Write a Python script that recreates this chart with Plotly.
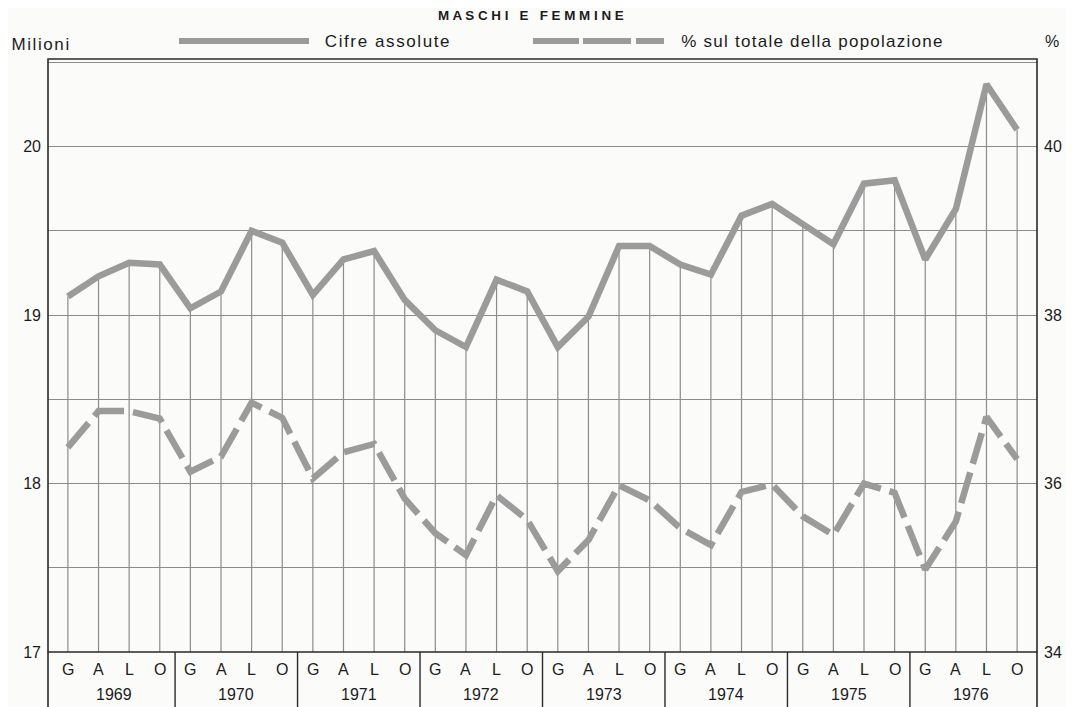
import plotly.graph_objects as go

years = ["1969", "1970", "1971", "1972", "1973", "1974", "1975", "1976"]
quarters = ["G", "A", "L", "O"]

# Cifre assolute (milioni)
assolute = [19.11, 19.23, 19.31, 19.30, 19.04, 19.14, 19.50, 19.43,
            19.12, 19.33, 19.38, 19.09, 18.91, 18.81, 19.21, 19.14,
            18.81, 18.99, 19.41, 19.41, 19.30, 19.24, 19.59, 19.66,
            19.54, 19.42, 19.78, 19.80, 19.33, 19.63, 20.37, 20.10]
# % sul totale della popolazione
percentuale = [36.43, 36.86, 36.86, 36.77, 36.14, 36.32, 36.96, 36.78,
               36.06, 36.37, 36.47, 35.82, 35.41, 35.15, 35.86, 35.57,
               34.96, 35.33, 35.98, 35.80, 35.47, 35.27, 35.90, 35.99,
               35.61, 35.39, 36.00, 35.89, 34.98, 35.55, 36.79, 36.29]

left_ticks = [17, 18, 19, 20]
right_ticks = [34, 36, 38, 40]

n = len(assolute)
xs = list(range(n))
LINE = "#9b9b9b"
GRID = "#8c8c8c"
INK = "#1c1c1c"
FONT = "Liberation Sans, Arial, sans-serif"

ymin, ymax = 17, 20.52
y2min, y2max = 34, 41.04

fig = go.Figure()

# vertical drop lines from each point to the base
dx, dy = [], []
for i, v in zip(xs, assolute):
    dx += [i, i, None]
    dy += [ymin, v, None]
fig.add_trace(go.Scatter(x=dx, y=dy, mode="lines",
                         line=dict(color=GRID, width=1.2),
                         hoverinfo="skip", showlegend=False))

fig.add_trace(go.Scatter(x=xs, y=assolute, mode="lines", name="Cifre assolute",
                         line=dict(color=LINE, width=6.5), showlegend=False))
fig.add_trace(go.Scatter(x=xs, y=percentuale, mode="lines",
                         name="% sul totale della popolazione", yaxis="y2",
                         line=dict(color=LINE, width=6.5, dash="32px,9px"),
                         showlegend=False))

grid_vals = [17 + 0.5 * k for k in range(8)]
fig.update_layout(
    width=1066, height=699,
    margin=dict(l=40, r=37, t=51, b=55),
    paper_bgcolor="#fbfbfa", plot_bgcolor="#fbfbfa",
    font=dict(family=FONT, size=15, color=INK),
    xaxis=dict(range=[-0.65, n - 1 + 0.65], showgrid=False, zeroline=False,
               showticklabels=False, ticks="", showline=False),
    yaxis=dict(range=[ymin, ymax], tickvals=grid_vals,
               ticktext=[str(int(v)) if v in left_ticks else "" for v in grid_vals],
               showgrid=True, gridcolor=GRID, gridwidth=1.2, zeroline=False,
               ticks="", showline=False, ticklabelstandoff=6,
               tickfont=dict(size=16, color=INK)),
    yaxis2=dict(range=[y2min, y2max], overlaying="y", side="right",
                tickvals=right_ticks, ticktext=[str(v) for v in right_ticks],
                showgrid=False, zeroline=False, ticks="", showline=False,
                ticklabelstandoff=6, tickfont=dict(size=16, color=INK)),
)

shapes = []
# frame
shapes.append(dict(type="rect", xref="paper", yref="paper", x0=0, x1=1, y0=0, y1=1,
                   line=dict(color="#2a2a2a", width=1.6)))
# table below: outer verticals and year separators
bottom = -55 / 593
shapes.append(dict(type="line", xref="paper", yref="paper", x0=0, x1=0, y0=0, y1=bottom,
                   line=dict(color="#2a2a2a", width=1.6)))
shapes.append(dict(type="line", xref="paper", yref="paper", x0=1, x1=1, y0=0, y1=bottom,
                   line=dict(color="#2a2a2a", width=1.6)))
for k in range(1, len(years)):
    xsep = 4 * k - 0.5
    shapes.append(dict(type="line", xref="x", yref="paper", x0=xsep, x1=xsep, y0=0, y1=bottom,
                       line=dict(color="#2a2a2a", width=1.4)))
# legend samples
ly = (652 - 41) / 593
shapes.append(dict(type="line", xref="paper", yref="paper",
                   x0=(179 - 48) / 989, x1=(309 - 48) / 989, y0=ly, y1=ly,
                   line=dict(color=LINE, width=6)))
for a, b in [(533, 579), (583, 631), (636, 664)]:
    shapes.append(dict(type="line", xref="paper", yref="paper",
                       x0=(a - 48) / 989, x1=(b - 48) / 989, y0=ly, y1=ly,
                       line=dict(color=LINE, width=6)))

annotations = []
ql = (652 - 669) / 593
yl = (652 - 694) / 593
for i in xs:
    annotations.append(dict(x=i, y=ql, xref="x", yref="paper", text=quarters[i % 4],
                            yanchor="middle", showarrow=False,
                            font=dict(size=16, color=INK)))
for k, yr in enumerate(years):
    annotations.append(dict(x=4 * k + 1.5, y=yl, xref="x", yref="paper", text=yr,
                            yanchor="middle", showarrow=False,
                            font=dict(size=16, color=INK)))

annotations += [
    dict(x=(531 - 48) / 989, y=(652 - 16) / 593, xref="paper", yref="paper",
         text="<b>M A S C H I   E   F E M M I N E</b>", showarrow=False,
         yanchor="middle", font=dict(size=13.4, color=INK)),
    dict(x=(15 - 48) / 989, y=(652 - 44) / 593, xref="paper", yref="paper", text="Milioni",
         xanchor="left", yanchor="middle", showarrow=False, font=dict(size=17, color=INK)),
    dict(x=(334 - 48) / 989, y=ly, xref="paper", yref="paper", text="Cifre assolute",
         xanchor="left", yanchor="middle", showarrow=False, font=dict(size=17, color=INK)),
    dict(x=(698 - 48) / 989, y=ly, xref="paper", yref="paper",
         text="% sul totale della popolazione",
         xanchor="left", yanchor="middle", showarrow=False, font=dict(size=17, color=INK)),
    dict(x=(1043 - 48) / 989, y=ly, xref="paper", yref="paper", text="%",
         xanchor="left", yanchor="middle", showarrow=False, font=dict(size=16, color=INK)),
]

fig.update_layout(shapes=shapes, annotations=annotations)

post = """
var gd = document.getElementById('{plot_id}');
gd.querySelectorAll('.annotation-text').forEach(function(t){
  var s = t.textContent;
  if (s === 'Milioni' || s === 'Cifre assolute') {
    t.style.letterSpacing = '1.6px';
  } else if (s.indexOf('popolazione') >= 0) {
    t.style.letterSpacing = '1.25px';
  }
});
"""
fig.write_html("out.html", post_script=post)
